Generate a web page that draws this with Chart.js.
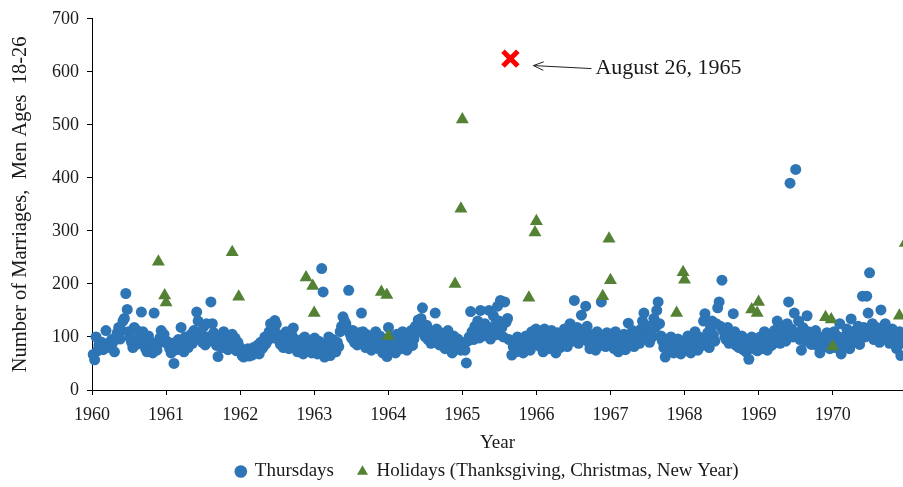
<!DOCTYPE html>
<html lang="en">
<head>
  <meta charset="UTF-8" />
  <title>Marriages, Men Ages 18-26</title>
  <script src="https://cdn.jsdelivr.net/npm/chart.js"></script>
  <style>
    body {
      margin: 0;
      padding: 0;
      background-color: #fff;
    }
    .container {
      width: 903px;
      height: 487px;
    }
  </style>
</head>
<body>

  <div class="container">
    <canvas id="marriageChart" width="903" height="487"></canvas>
  </div>

  <script>
    // weekly Thursday counts, one array per year
    const thursdays1960 = [67, 57, 100, 74, 85, 78, 90, 76, 82, 112, 80, 88, 84, 95, 90, 72, 100, 108, 118, 96, 112, 130, 135, 182, 152, 110, 98, 90, 80, 118, 85, 112, 95, 88, 147, 110, 88, 78, 72, 102, 85, 90, 70, 145, 80, 75, 88, 98, 112, 95, 105, 90];
    const thursdays1961 = [92, 85, 78, 70, 88, 50, 82, 76, 95, 84, 118, 90, 72, 100, 86, 80, 96, 105, 88, 112, 102, 147, 130, 98, 110, 90, 120, 85, 125, 100, 92, 166, 125, 108, 95, 84, 63, 90, 102, 80, 110, 94, 88, 76, 100, 92, 105, 86, 98, 74, 90, 82];
    const thursdays1962 = [75, 65, 62, 70, 68, 78, 64, 72, 66, 80, 74, 70, 85, 68, 90, 78, 82, 100, 88, 95, 110, 125, 98, 118, 131, 124, 105, 92, 86, 100, 80, 95, 110, 88, 78, 92, 104, 117, 96, 85, 72, 90, 80, 95, 68, 100, 86, 75, 92, 82, 70, 88];
    const thursdays1963 = [98, 80, 68, 92, 75, 229, 185, 62, 88, 70, 100, 65, 85, 95, 78, 72, 90, 82, 110, 120, 138, 130, 125, 115, 188, 105, 98, 112, 90, 100, 85, 108, 95, 145, 110, 92, 80, 104, 88, 96, 75, 100, 82, 110, 90, 78, 102, 86, 70, 95, 80, 63];
    const thursdays1964 = [118, 95, 72, 100, 88, 70, 105, 82, 92, 78, 110, 86, 98, 75, 102, 90, 112, 84, 96, 120, 108, 132, 125, 135, 155, 118, 100, 122, 95, 110, 88, 104, 92, 145, 115, 98, 85, 108, 90, 100, 78, 95, 112, 84, 92, 70, 102, 88, 80, 96, 85, 75, 90];
    const thursdays1965 = [88, 75, 51, 92, 100, 148, 110, 95, 120, 105, 130, 98, 150, 115, 102, 125, 108, 118, 150, 96, 112, 140, 122, 104, 158, 130, 169, 118, 100, 166, 128, 135, 95, null, 66, 82, 92, 72, 100, 85, 78, 95, 70, 88, 102, 80, 92, 75, 110, 86, 98, 115];
    const thursdays1966 = [95, 110, 82, 100, 72, 115, 88, 105, 78, 92, 112, 85, 98, 70, 108, 90, 80, 102, 88, 115, 95, 82, 100, 125, 110, 92, 169, 105, 118, 88, 100, 141, 95, 112, 158, 120, 90, 78, 104, 86, 96, 75, 110, 92, 84, 166, 100, 95, 82, 108, 90, 86];
    const thursdays1967 = [88, 100, 78, 110, 92, 72, 85, 95, 80, 105, 76, 90, 126, 98, 86, 112, 82, 100, 94, 108, 88, 115, 130, 145, 105, 96, 120, 90, 110, 100, 135, 118, 150, 166, 125, 102, 92, 80, 62, 95, 86, 74, 100, 82, 70, 90, 78, 96, 85, 68, 92, 80];
    const thursdays1968 = [90, 78, 102, 85, 70, 95, 82, 110, 88, 75, 100, 92, 84, 130, 144, 98, 108, 80, 118, 130, 104, 92, 125, 155, 166, 120, 207, 112, 100, 95, 118, 88, 105, 92, 144, 110, 84, 98, 80, 90, 102, 76, 88, 72, 95, 58, 84, 100, 78, 92, 86, 74];
    const thursdays1969 = [85, 100, 78, 92, 110, 88, 75, 96, 102, 84, 90, 112, 95, 130, 105, 88, 120, 98, 110, 92, 125, 166, 390, 115, 100, 145, 416, 108, 130, 95, 75, 118, 100, 92, 140, 110, 98, 86, 104, 90, 112, 84, 96, 70, 88, 100, 82, 95, 108, 86, 78, 92];
    const thursdays1970 = [95, 110, 80, 102, 88, 125, 68, 92, 100, 84, 115, 96, 78, 134, 105, 90, 112, 98, 120, 86, 108, 177, 118, 100, 177, 145, 221, 112, 125, 95, 108, 118, 100, 90, 151, 112, 104, 125, 96, 110, 88, 100, 115, 92, 105, 78, 96, 110, 65, 98, 88, 105, 90];

    const years = [1960, 1961, 1962, 1963, 1964, 1965, 1966, 1967, 1968, 1969, 1970];
    const thursdaysByYear = [thursdays1960, thursdays1961, thursdays1962, thursdays1963, thursdays1964, thursdays1965,
                             thursdays1966, thursdays1967, thursdays1968, thursdays1969, thursdays1970];

    // holidays, one value per year in `years`
    const thanksgivingDays = [24, 23, 22, 28, 26, 25, 24, 23, 28, 27, 26]; // November
    const thanksgivingValues = [242, 260, 212, 185, 200, 174, 177, 145, 152, 137, 140];
    const christmasValues = [178, 176, 196, 179, 342, 297, 285, 222, 145, 133, 277];
    const newYearValues = [null, 165, null, 145, 102, 510, 318, 207, 208, 166, 82];

    const outlierDate = [1965, 8, 26];
    const outlierValue = 625;
    const outlierLabel = 'August 26, 1965';

    const yTicks = [0, 100, 200, 300, 400, 500, 600, 700];

    // date -> decimal year
    function toYear(y, m, d) {
      const start = Date.UTC(y, 0, 1);
      const end = Date.UTC(y + 1, 0, 1);
      return y + (Date.UTC(y, m - 1, d) - start) / (end - start);
    }

    function firstThursday(y) {
      let d = 1;
      while (new Date(Date.UTC(y, 0, d)).getUTCDay() !== 4) d++;
      return d;
    }

    const thursdayPoints = [];
    years.forEach((y, i) => {
      const d0 = firstThursday(y);
      thursdaysByYear[i].forEach((v, w) => {
        if (v === null) return;
        const dt = new Date(Date.UTC(y, 0, d0 + 7 * w));
        thursdayPoints.push({ x: toYear(dt.getUTCFullYear(), dt.getUTCMonth() + 1, dt.getUTCDate()), y: v });
      });
    });

    const holidayPoints = [];
    years.forEach((y, i) => {
      if (newYearValues[i] !== null) holidayPoints.push({ x: toYear(y, 1, 1), y: newYearValues[i] });
      holidayPoints.push({ x: toYear(y, 11, thanksgivingDays[i]), y: thanksgivingValues[i] });
      holidayPoints.push({ x: toYear(y, 12, 25), y: christmasValues[i] });
    });

    const outlierPoint = { x: toYear(...outlierDate), y: outlierValue };

    const textColor = '#1a1a1a';
    Chart.defaults.font.family = "'Liberation Serif', 'Times New Roman', serif";
    Chart.defaults.color = textColor;

    // arrow + text pointing at the outlier
    const arrowNote = {
      id: 'arrowNote',
      afterDatasetsDraw(chart) {
        const { ctx, scales: { x, y } } = chart;
        const tipX = x.getPixelForValue(outlierPoint.x) + 23;
        const tipY = y.getPixelForValue(outlierPoint.y) + 7;
        const textX = tipX + 62;
        const textY = tipY + 3;
        ctx.save();
        ctx.strokeStyle = '#222';
        ctx.lineWidth = 1;
        ctx.beginPath();
        ctx.moveTo(textX - 4, textY);
        ctx.lineTo(tipX, tipY);
        const ang = Math.atan2(textY - tipY, textX - 4 - tipX);
        ctx.moveTo(tipX + 11 * Math.cos(ang - 0.4), tipY + 11 * Math.sin(ang - 0.4));
        ctx.lineTo(tipX, tipY);
        ctx.lineTo(tipX + 11 * Math.cos(ang + 0.4), tipY + 11 * Math.sin(ang + 0.4));
        ctx.stroke();
        ctx.fillStyle = textColor;
        ctx.font = "22px 'Liberation Serif', serif";
        ctx.textBaseline = 'middle';
        ctx.fillText(outlierLabel, textX, textY);
        ctx.restore();
      }
    };

    // legend sits a little left of the plot centre in the original
    const legendNudge = {
      id: 'legendNudge',
      afterLayout(chart) {
        chart.legend.left -= 10;
        chart.legend.right -= 10;
      }
    };

    const ctx = document.getElementById('marriageChart').getContext('2d');
    new Chart(ctx, {
      type: 'scatter',
      data: {
        datasets: [
          {
            label: 'Thursdays',
            data: thursdayPoints,
            pointStyle: 'circle',
            pointRadius: 5.5,
            backgroundColor: '#2E75B6',
            borderColor: '#2E75B6',
            borderWidth: 0,
            clip: false,
            order: 2
          },
          {
            label: 'Holidays (Thanksgiving, Christmas, New Year)',
            data: holidayPoints,
            pointStyle: 'triangle',
            pointRadius: 7.5,
            backgroundColor: '#548235',
            borderColor: '#548235',
            borderWidth: 0,
            clip: false,
            order: 1
          },
          {
            label: 'outlier',
            data: [outlierPoint],
            pointStyle: 'crossRot',
            pointRadius: 10.5,
            borderColor: '#FF0000',
            backgroundColor: '#FF0000',
            borderWidth: 5,
            clip: false,
            order: 0
          }
        ]
      },
      options: {
        responsive: false,
        animation: false,
        devicePixelRatio: 1,
        layout: { autoPadding: false, padding: { top: 18, right: 0, left: 0, bottom: 0 } },
        plugins: {
          tooltip: { enabled: false },
          legend: {
            position: 'bottom',
            fullSize: false,
            maxHeight: 49,
            labels: {
              usePointStyle: true,
              boxWidth: 9,
              boxHeight: 9,
              padding: 24,
              font: { size: 19 },
              filter: item => item.text !== 'outlier',
              sort: (a, b) => a.datasetIndex - b.datasetIndex
            }
          }
        },
        scales: {
          x: {
            type: 'linear',
            min: 1960,
            max: 1970.95,
            bounds: 'data',
            afterFit: scale => { scale.height = 48; },
            afterBuildTicks: scale => { scale.ticks = years.map(v => ({ value: v })); },
            border: { color: '#000', width: 1 },
            grid: { drawOnChartArea: false, drawTicks: true, tickLength: 5, color: '#000' },
            ticks: {
              padding: 9,
              font: { size: 18 },
              callback: v => String(v)
            },
            title: { display: true, text: 'Year', font: { size: 19, lineHeight: 1.2 }, padding: { top: 0, bottom: -16 } }
          },
          y: {
            min: 0,
            max: 700,
            afterFit: scale => { scale.width = 92; },
            afterBuildTicks: scale => { scale.ticks = yTicks.map(v => ({ value: v })); },
            border: { color: '#000', width: 1 },
            grid: { drawOnChartArea: false, drawTicks: true, tickLength: 5, color: '#000' },
            ticks: { padding: 8, font: { size: 18 } },
            title: {
              display: true,
              text: 'Number of Marriages,  Men Ages  18-26',
              font: { size: 20.5, lineHeight: 1.2 },
              padding: { top: 8, bottom: 0 }
            }
          }
        }
      },
      plugins: [arrowNote, legendNudge]
    });
  </script>

</body>
</html>
